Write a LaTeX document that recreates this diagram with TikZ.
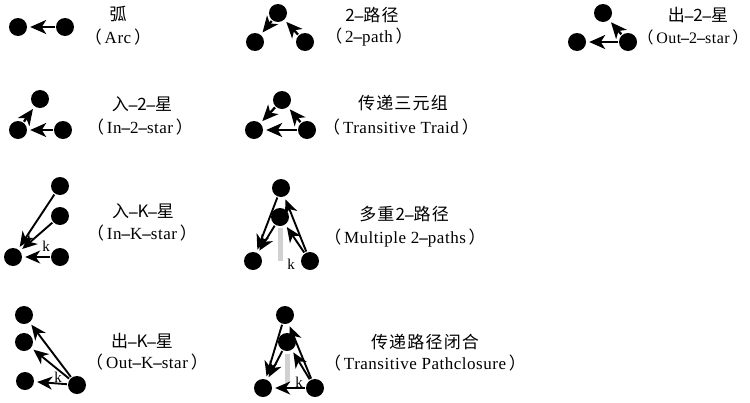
\documentclass[tikz,border=0pt]{standalone}
\usepackage{fontspec}
\setmainfont{Liberation Serif}[LetterSpace=3]
\newfontfamily\cjk{Noto Sans CJK SC}[LetterSpace=7]
\usetikzlibrary{arrows.meta}
\newcommand{\lp}{\kern-0.45em{\cjk （}\,}
\newcommand{\rp}{\,{\cjk ）}\kern-0.45em}
\newcommand{\dd}{{\rmfamily\bfseries –}}
\begin{document}
\begin{tikzpicture}[x=1pt,y=-1pt,
  dot/.style={circle, fill=black, minimum size=18pt, inner sep=0pt},
  arr/.style={line width=2.3pt, -{Stealth[length=16pt,width=14pt,inset=4.5pt]}, shorten >=3pt, shorten <=1pt},
  thin/.style={line width=1.9pt, -{Stealth[length=15pt,width=13pt,inset=4.5pt]}, shorten >=3pt, shorten <=1pt},
  bar/.style={line width=5pt, draw=black!18},
  zh/.style={font=\cjk\fontsize{17}{17}\selectfont, inner sep=0pt},
  en/.style={font=\fontsize{17}{17}\selectfont, inner sep=0pt},
  kl/.style={font=\fontsize{15}{15}\selectfont, inner sep=0pt}]
\useasboundingbox (0,0) rectangle (750,402);

% Arc
\node[dot] (a1) at (18,27) {};
\node[dot] (a2) at (65,27) {};
\draw[arr] (a2) -- (a1);
\node[zh] (at1) at (118,14) {弧};
\node[en] (at2) at (118,37) {\lp Arc\rp};

% 2-path
\node[dot] (p1) at (278,13) {};
\node[dot] (p2) at (255,42) {};
\node[dot] (p3) at (305,42) {};
\draw[arr] (p1) -- (p2);
\draw[arr] (p3) -- (p1);
\node[zh] (pt1) at (372,15) {2\dd 路径};
\node[en] (pt2) at (369,37) {\lp 2\dd path\rp};

% Out-2-star
\node[dot] (o1) at (603,13) {};
\node[dot] (o2) at (577,42) {};
\node[dot] (o3) at (628,42) {};
\draw[arr] (o3) -- (o2);
\draw[arr] (o3) -- (o1);
\node[zh] (ot1) at (698,15) {出\dd 2\dd 星};
\node[en, font=\fontsize{16}{16}\selectfont] (ot2) at (693,37) {\lp Out\dd 2\dd star\rp};

% In-2-star
\node[dot] (i1) at (40,99) {};
\node[dot] (i2) at (18,130) {};
\node[dot] (i3) at (63,130) {};
\draw[arr] (i3) -- (i2);
\draw[arr] (i2) -- (i1);
\node[zh] (it1) at (142,104) {入\dd 2\dd 星};
\node[en] (it2) at (140,127) {\lp In\dd 2\dd star\rp};

% Transitive triad
\node[dot] (t1) at (282,100) {};
\node[dot] (t2) at (254,130) {};
\node[dot] (t3) at (307,130) {};
\draw[arr] (t1) -- (t2);
\draw[arr] (t3) -- (t1);
\draw[arr] (t3) -- (t2);
\node[zh] (tt1) at (403,103) {传递三元组};
\node[en] (tt2) at (401,127) {\lp Transitive Traid\rp};

% In-K-star
\node[dot] (k1) at (60,186) {};
\node[dot] (k2) at (60,216) {};
\node[dot] (k3) at (60,257) {};
\node[dot] (k0) at (13,257) {};
\draw[thin] (k1) -- (k0);
\draw[thin] (k2) -- (k0);
\draw[thin] (k3) -- (k0);
\node[kl] (kk) at (46,246) {k};
\node[zh] (kt1) at (143,211) {入\dd K\dd 星};
\node[en] (kt2) at (142,233) {\lp In\dd K\dd star\rp};

% Multiple 2-paths
\coordinate (mb1) at (280,228);
\coordinate (mb2) at (280,261);
\draw[bar] (mb1) -- (mb2);
\node[dot] (m1) at (281,188) {};
\node[dot] (m2) at (280,217) {};
\node[dot] (m3) at (253,261) {};
\node[dot] (m4) at (310,261) {};
\draw[thin] (m1) -- (m3);
\draw[thin] (m2) -- (m3);
\draw[thin] (m4) -- (m1);
\draw[thin] (m4) -- (m2);
\node[kl] (mk) at (291,264) {k};
\node[zh] (mt1) at (404,214) {多重2\dd 路径};
\node[en] (mt2) at (405,238) {\lp Multiple 2\dd paths\rp};

% Out-K-star
\node[dot] (q1) at (24,315) {};
\node[dot] (q2) at (24,342) {};
\node[dot] (q3) at (25,381) {};
\node[dot] (q0) at (77,385) {};
\draw[thin] (q0) -- (q1);
\draw[thin] (q0) -- (q2);
\draw[thin] (q0) -- (q3);
\node[kl] (qk) at (58,377) {k};
\node[zh] (qt1) at (142,341) {出\dd K\dd 星};
\node[en] (qt2) at (147,362) {\lp Out\dd K\dd star\rp};

% Transitive pathclosure
\coordinate (cb1) at (287,354);
\coordinate (cb2) at (287,383);
\draw[bar] (cb1) -- (cb2);
\node[dot] (c1) at (285,315) {};
\node[dot] (c2) at (287,342) {};
\node[dot] (c3) at (263,388) {};
\node[dot] (c4) at (315,388) {};
\draw[thin] (c1) -- (c3);
\draw[thin] (c2) -- (c3);
\draw[thin] (c4) -- (c1);
\draw[thin] (c4) -- (c2);
\draw[thin] (c4) -- (c3);
\node[kl] (ck) at (299,382) {k};
\node[zh] (ct1) at (425,342) {传递路径闭合};
\node[en] (ct2) at (425,363) {\lp Transitive Pathclosure\rp};
\end{tikzpicture}
\end{document}
